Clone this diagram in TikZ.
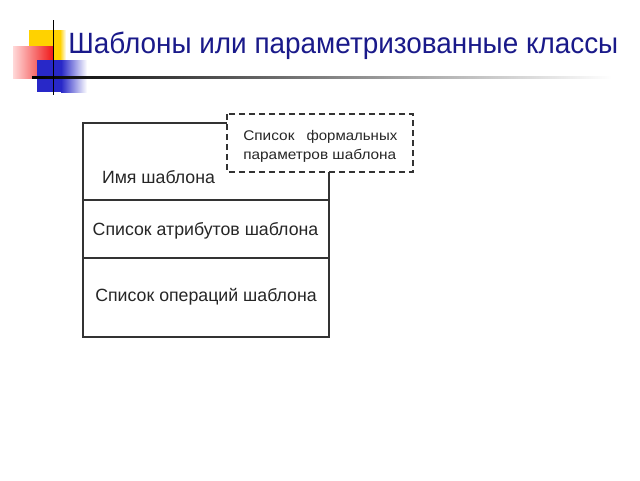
\documentclass[tikz,border=0pt]{standalone}
\usepackage{fontspec}
\setmainfont{Liberation Sans}
\definecolor{titlenavy}{HTML}{1A1A8A}
\definecolor{decoyellow}{HTML}{FFD200}
\definecolor{decored}{HTML}{F01818}
\definecolor{decoblue}{HTML}{2828C8}
\tikzset{
  boxline/.style={draw=black!80, line width=1.1pt},
  paramline/.style={draw=black!80, line width=1.1pt, dash pattern=on 4.5pt off 3pt, fill=white},
  boxtext/.style={font=\fontsize{13.3pt}{15pt}\selectfont, text=black!85, inner sep=0pt, anchor=base},
  paramtext/.style={font=\fontsize{10.5pt}{13pt}\selectfont, text=black!85, inner sep=0pt, anchor=base west},
}
\begin{document}
\begin{tikzpicture}[x=0.75pt,y=-0.75pt]
\useasboundingbox (0,0) rectangle (640,480);
\fill[white] (0,0) rectangle (640,480);
% decorations
\fill[decoyellow] (29,30) rectangle (62,60);
\shade[left color=decoyellow, right color=white] (60,30) rectangle (66,60);
\shade[left color=red!15, right color=decored] (13,46) rectangle (53,78);
\fill[decoblue] (37,60) rectangle (62,92);
\shade[left color=decoblue, right color=white] (61,60) rectangle (87,92);
\shade[left color=black, right color=white, middle color=black!50] (32,76) rectangle (612,78.5);
\draw[black, line width=1.3pt] (53.5,20) -- (53.5,95);
% title
\node[anchor=base west, inner sep=0pt, text=titlenavy, font=\fontsize{22pt}{26pt}\selectfont] (title) at (68,53.5) {\resizebox{412.5pt}{\height}{Шаблоны или параметризованные классы}};
% class box
\draw[boxline] (83,123) rectangle (329,337);
\draw[boxline] (83,200) -- (329,200);
\draw[boxline] (83,258) -- (329,258);
\node[boxtext] (name) at (158.5,183.5) {Имя шаблона};
\node[boxtext] (attrs) at (205.5,235) {Список атрибутов шаблона};
\node[boxtext] (ops) at (206,301.5) {Список операций шаблона};
% parameter box
\draw[paramline] (227,114) rectangle (413,172);
\node[paramtext] (p1) at (243,140) {\makebox[115.5pt][s]{\scalebox{1.1}[1]{Список}\hfill\scalebox{1.07}[1]{формальных}}};
\node[paramtext] (p2) at (243,159) {\resizebox{114.75pt}{\height}{параметров шаблона}};
\end{tikzpicture}
\end{document}
